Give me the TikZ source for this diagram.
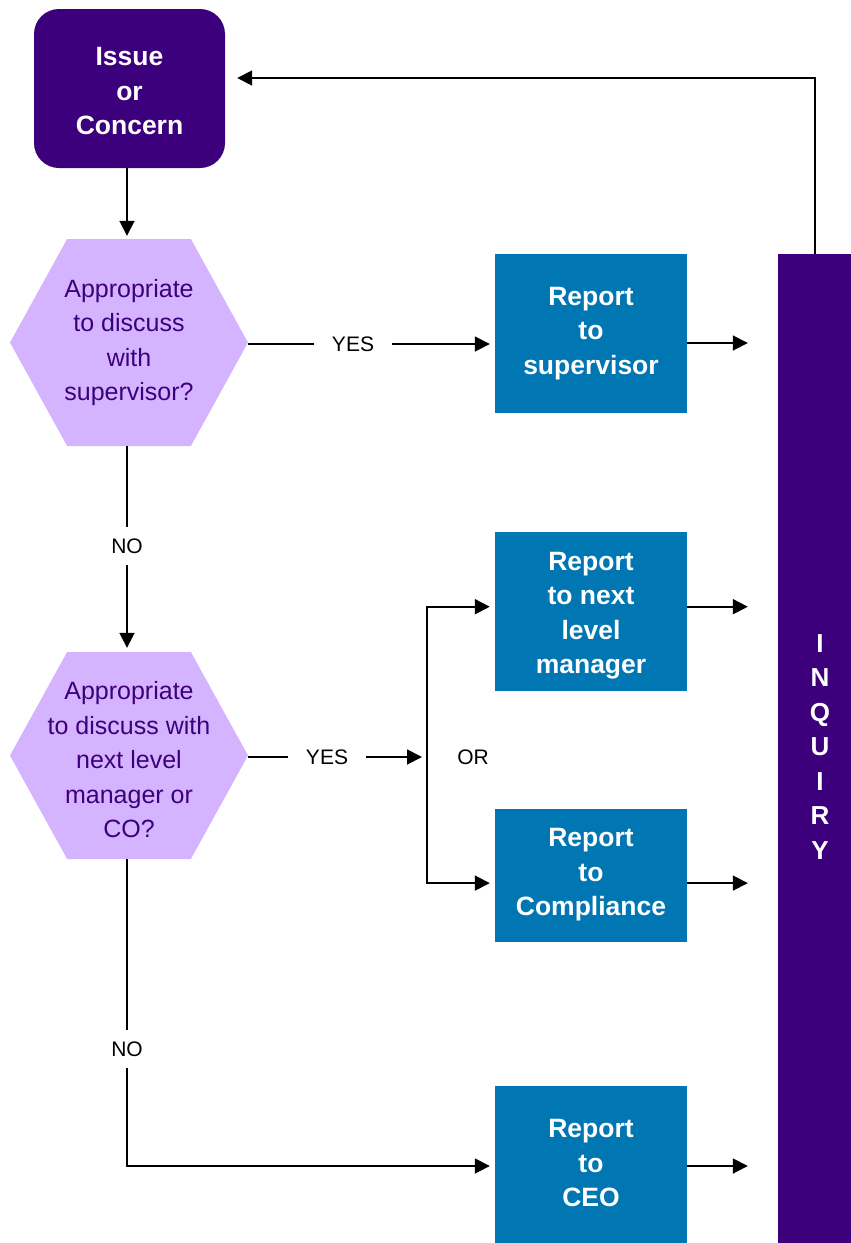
\documentclass[tikz,border=0pt]{standalone}
\usepackage{fontspec}
\setmainfont{Liberation Sans}
\usetikzlibrary{arrows.meta,calc}
\definecolor{dpurple}{RGB}{61,0,125}
\definecolor{lpurple}{RGB}{213,180,255}
\definecolor{rblue}{RGB}{0,118,178}
\newcommand{\shiftlines}[2]{\raisebox{#1}[\height][\depth]{\begin{tabular}{@{}c@{}}#2\end{tabular}}}
\tikzset{
  conn/.style={line width=1.8pt,draw=black},
  arr/.style={conn,-{Triangle[length=15pt,width=15pt]},shorten >=5pt},
  bluebox/.style={rectangle,fill=rblue,text=white,minimum width=192pt,inner sep=0pt,align=center,font=\fontsize{26.5}{34.5}\selectfont\bfseries},
  hexnode/.style={rectangle,minimum width=238pt,minimum height=207pt,inner sep=0pt,align=center,text=dpurple,font=\fontsize{25}{34.5}\selectfont,
    path picture={\fill[lpurple] (path picture bounding box.west)
      -- ($(path picture bounding box.north west)!0.24!(path picture bounding box.north east)$)
      -- ($(path picture bounding box.north west)!0.76!(path picture bounding box.north east)$)
      -- (path picture bounding box.east)
      -- ($(path picture bounding box.south west)!0.76!(path picture bounding box.south east)$)
      -- ($(path picture bounding box.south west)!0.24!(path picture bounding box.south east)$)
      -- cycle;}},
  lbl/.style={font=\fontsize{21}{25}\selectfont,inner ysep=11pt,inner xsep=18pt}
}
\begin{document}
\begin{tikzpicture}[x=1pt,y=-1pt]
\useasboundingbox (0,0) rectangle (851,1243);
% nodes
\node[rectangle,rounded corners=25pt,fill=dpurple,text=white,minimum width=191pt,minimum height=159pt,inner sep=0pt,
  font=\fontsize{26.5}{34.5}\selectfont\bfseries] (issue) at (129.5,88.5) {\shiftlines{-5pt}{Issue\\or\\Concern}};
\node[hexnode] (h1) at (129,342.5) {Appropriate\\to discuss\\with\\supervisor?};
\node[hexnode] (h2) at (129,755.5) {\shiftlines{-6.5pt}{Appropriate\\to discuss with\\next level\\manager or\\CO?}};
\node[bluebox,minimum height=159pt] (b1) at (591,333.5) {Report\\to\\supervisor};
\node[bluebox,minimum height=159pt] (b2) at (591,611.5) {\shiftlines{-3.8pt}{Report\\to next\\level\\manager}};
\node[bluebox,minimum height=133pt] (b3) at (591,875.5) {\shiftlines{1pt}{Report\\to\\Compliance}};
\node[bluebox,minimum height=157pt] (b4) at (591,1164.5) {\shiftlines{-1pt}{Report\\to\\CEO}};
\node[rectangle,fill=dpurple,minimum width=73pt,minimum height=989pt,inner sep=0pt] (inq) at (814.5,748.5) {};
\node[text=white,align=center,font=\fontsize{26}{34.5}\selectfont\bfseries] (inqtext) at (820,747) {I\\N\\Q\\U\\I\\R\\Y};
\node[lbl] (yes1) at (353,344) {YES};
\node[lbl] (yes2) at (327,757) {YES};
\node[lbl] (no1) at (127,546) {NO};
\node[lbl] (no2) at (127,1049) {NO};
\node[font=\fontsize{21}{25}\selectfont] (or) at (473,757) {OR};
\coordinate (j) at (427,757);
% connectors
\draw[arr,shorten >=3pt] (issue.south -| no1.north) -- (no1.north |- h1.north);
\draw[conn] (h1.east |- yes1.west) -- (yes1.west);
\draw[arr] (yes1.east) -- (yes1.east -| b1.west);
\draw[arr,shorten >=30pt] ([yshift=-9.5pt]b1.east) -- ([yshift=-9.5pt]b1.east -| inq.west);
\draw[arr,shorten >=12pt] (inq.north -| 815,0) |- ([yshift=10.5pt]issue.east);
\draw[conn] (h1.south -| no1.north) -- (no1.north);
\draw[arr,shorten >=4pt] (no1.south) -- (no1.south |- h2.north);
\draw[conn] (h2.east |- yes2.west) -- (yes2.west);
\draw[arr] (yes2.east) -- (j);
\draw[arr] (j) |- ([yshift=4.8pt]b2.west);
\draw[arr] (j) |- ([yshift=-7.6pt]b3.west);
\draw[arr,shorten >=30pt] ([yshift=4.8pt]b2.east) -- ([yshift=4.8pt]b2.east -| inq.west);
\draw[arr,shorten >=30pt] ([yshift=-7.6pt]b3.east) -- ([yshift=-7.6pt]b3.east -| inq.west);
\draw[conn] (h2.south -| no2.north) -- (no2.north);
\draw[arr] (no2.south) |- ([yshift=-1.5pt]b4.west);
\draw[arr,shorten >=30pt] ([yshift=-1.5pt]b4.east) -- ([yshift=-1.5pt]b4.east -| inq.west);
\end{tikzpicture}
\end{document}
